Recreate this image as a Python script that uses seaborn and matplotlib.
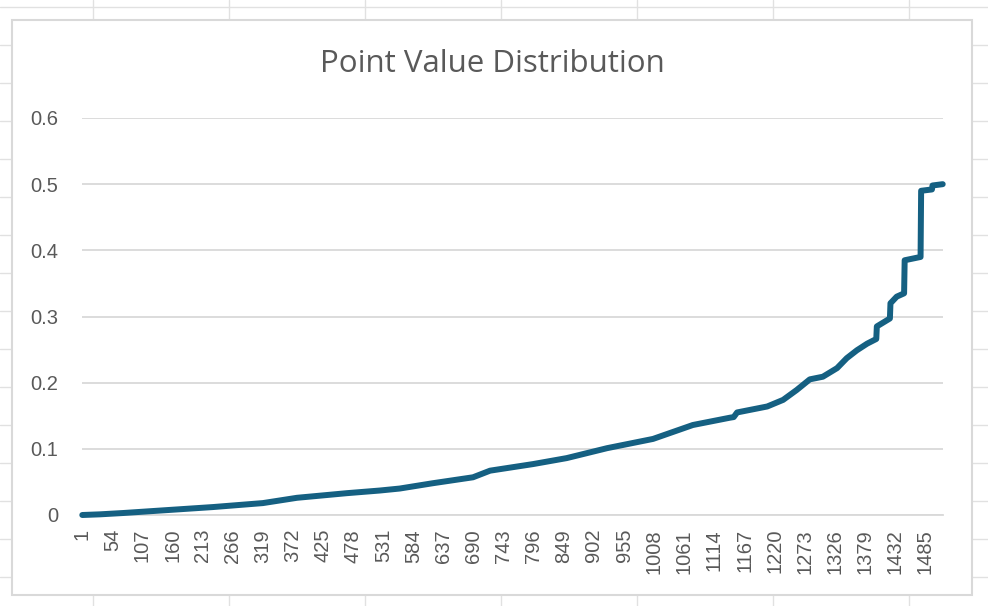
import numpy as np
import pandas as pd
import matplotlib
matplotlib.use("Agg")
import matplotlib.pyplot as plt
import seaborn as sns
from matplotlib.lines import Line2D
from matplotlib.patches import Rectangle

# sorted point values at break points (index, value)
n_points = 1516
point_idx = [1, 32, 73, 143, 231, 319, 379, 467, 525, 560,
             618, 689, 719, 795, 854, 925, 1006, 1076, 1141, 1148,
             1154, 1207, 1235, 1259, 1282, 1305, 1330, 1347, 1365, 1383,
             1399, 1400, 1423, 1424, 1435, 1448, 1449, 1477, 1478, 1497,
             1498, 1516]
point_value = [0.000, 0.001, 0.003, 0.007, 0.012, 0.018, 0.026, 0.033, 0.037, 0.040,
               0.048, 0.057, 0.067, 0.077, 0.086, 0.101, 0.115, 0.136, 0.147, 0.148,
               0.155, 0.164, 0.174, 0.189, 0.205, 0.209, 0.222, 0.237, 0.249, 0.259,
               0.266, 0.285, 0.297, 0.320, 0.330, 0.335, 0.385, 0.390, 0.490, 0.492,
               0.498, 0.500]
y_ticks = [0, 0.1, 0.2, 0.3, 0.4, 0.5, 0.6]
y_tick_labels = ["0", "0.1", "0.2", "0.3", "0.4", "0.5", "0.6"]
x_ticks = list(range(1, n_points + 1, 53))

df = pd.DataFrame({"idx": point_idx, "value": point_value})

sns.set_theme(style="white")
plt.rcParams['font.family'] = ['Liberation Sans', 'DejaVu Sans']

W, H = 988, 606
fig = plt.figure(figsize=(W / 100, H / 100), dpi=100)
fig.patch.set_facecolor("white")

# spreadsheet cells behind the chart
for xc in range(93, W, 136):
    fig.add_artist(Line2D([xc / W, xc / W], [0, 1], color="#e1e1e1", lw=1, zorder=0))
for yc in range(7, H, 38):
    fig.add_artist(Line2D([0, 1], [1 - yc / H, 1 - yc / H], color="#e1e1e1", lw=1, zorder=0))
# chart area
fig.add_artist(Rectangle((12 / W, 1 - 595 / H), (972 - 12) / W, (595 - 20) / H,
                         facecolor="white", edgecolor="#d9d9d9", lw=1.5, zorder=1))

ax = fig.add_axes([82 / W, 1 - 515 / H, (943 - 82) / W, (515 - 118) / H], zorder=2)
ax.set_facecolor("white")
sns.lineplot(data=df, x="idx", y="value", ax=ax, color="#156082", lw=4.3,
             solid_capstyle="round", solid_joinstyle="round")
for ln in ax.lines:
    ln.set_clip_on(False)
    ln.set_zorder(5)

ax.set_xlim(0.5, n_points + 0.5)
ax.set_ylim(0, 0.6)
ax.set_yticks(y_ticks)
ax.set_yticklabels(y_tick_labels)
ax.set_xticks(x_ticks)
ax.set_xticklabels([str(t) for t in x_ticks], rotation=90)
ax.tick_params(axis="both", length=0, labelsize=14.5, labelcolor="#595959")
ax.tick_params(axis="y", pad=17)
ax.tick_params(axis="x", pad=10)
ax.grid(axis="y", color="#d9d9d9", lw=1.3)
ax.set_axisbelow(True)
for s in ["left", "right", "top"]:
    ax.spines[s].set_visible(False)
ax.spines["bottom"].set_color("#d9d9d9")
ax.spines["bottom"].set_linewidth(1.3)
ax.set_xlabel("")
ax.set_ylabel("")

fig.text(492 / W, 1 - 64 / H, "Point Value Distribution", ha="center", va="center",
         fontsize=22.5, color="#595959", family=["Open Sans", "DejaVu Sans"], zorder=3)

fig.savefig("out.png", dpi=100)
